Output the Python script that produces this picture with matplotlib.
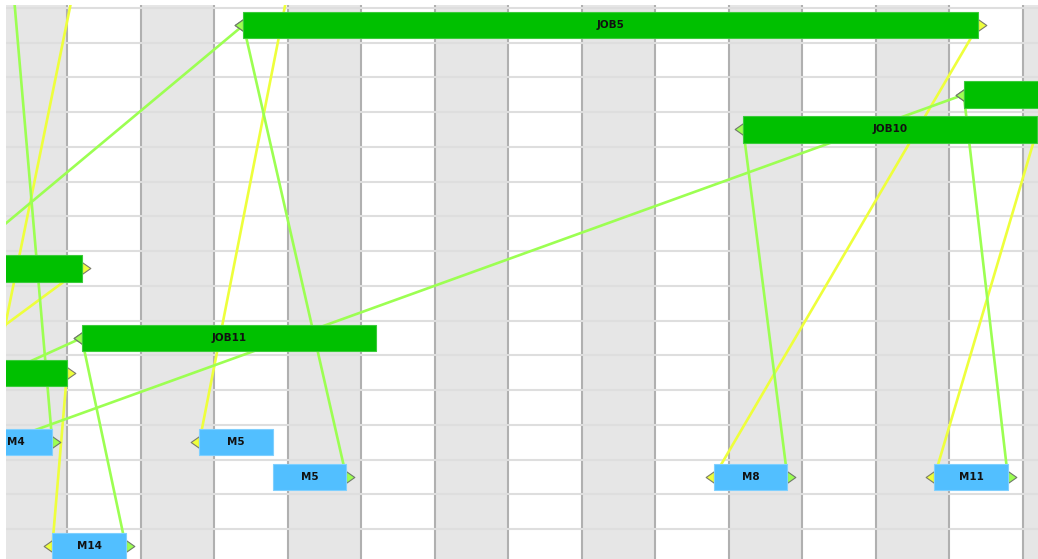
import numpy as np
import matplotlib
matplotlib.use('Agg')
import matplotlib.pyplot as plt
from matplotlib.path import Path

# Job bars (green). Rows count downward from the top; time in grid columns.
job_names = ['JOB5', '', 'JOB10', '', 'JOB11', '', '', '']
job_rows = [0, 2, 3, 7, 9, 10, -2, -3]
job_starts = [2.4, 12.2, 9.2, -3.8, 0.2, -4.0, -0.77, -3.72]
job_ends = [12.4, 16.2, 13.2, 0.2, 4.2, 0.0, 3.1, 0.28]

# Machine bars (blue)
mach_names = ['M4', 'M5', 'M5', 'M8', 'M11', 'M14', '', '', '', '', '']
mach_rows = [12, 12, 13, 13, 13, 15, 13, 16, 12, 12, 13]
mach_starts = [-1.2, 1.8, 2.8, 8.8, 11.8, -0.2, -3.2, -1.55, -3.0, -5.4, -4.96]
mach_ends = [-0.2, 2.8, 3.8, 9.8, 12.8, 0.8, -2.2, -0.55, -2.0, -4.4, -3.96]

# links: job end -> machine start (yellow), machine end -> job start (green)
job_to_mach = [(0, 3), (2, 4), (5, 5), (6, 1), (7, 7), (3, 8)]
mach_to_job = [(2, 0), (3, 2), (4, 1), (5, 4), (0, 6), (6, 1), (9, 0), (10, 4)]

n_cols = 13
n_rows = 16

YELLOW = '#EEFF3C'
LGREEN = '#9CFF52'
JOB_COLOR = '#00C000'
MACH_COLOR = '#52BFFF'

# half-triangle markers sticking out of the bar ends
left_tri = Path([(0, 0.7), (-1, 0), (0, -0.7), (0, 0.7)],
                [Path.MOVETO, Path.LINETO, Path.LINETO, Path.CLOSEPOLY])
right_tri = Path([(0, 0.7), (1, 0), (0, -0.7), (0, 0.7)],
                 [Path.MOVETO, Path.LINETO, Path.LINETO, Path.CLOSEPOLY])

if __name__ == '__main__':
    fig = plt.figure(figsize=(10.38, 5.59), dpi=100)
    ax = fig.add_axes([6 / 1038, 0, 1032 / 1038, 554 / 559])
    xmin, xmax = -0.83, 13.21
    ax.set_xlim(xmin, xmax)
    ax.set_ylim(15.36, -0.58)
    ax.axis('off')

    # alternating column shading and grid
    for k in range(-1, n_cols + 1, 2):
        ax.axvspan(k, k + 1, color='#E6E6E6', lw=0, zorder=0)
    for k in range(0, n_cols + 1):
        ax.axvline(k, color='#B0B0B0', lw=1.5, zorder=1)
    for r in range(-1, n_rows):
        ax.axhline(r + 0.5, color='#DEDEDE', lw=1.5, zorder=1)

    # links
    for j, m in job_to_mach:
        ax.plot([job_ends[j], mach_starts[m]], [job_rows[j], mach_rows[m]],
                color=YELLOW, lw=1.9, zorder=2, solid_capstyle='butt')
        ax.plot(job_ends[j], job_rows[j], marker=right_tri, ms=12,
                mfc=YELLOW, mec='#7a7a6a', mew=0.8, zorder=3)
        ax.plot(mach_starts[m], mach_rows[m], marker=left_tri, ms=12,
                mfc=YELLOW, mec='#7a7a6a', mew=0.8, zorder=3)
    for m, j in mach_to_job:
        ax.plot([mach_ends[m], job_starts[j]], [mach_rows[m], job_rows[j]],
                color=LGREEN, lw=1.9, zorder=2, solid_capstyle='butt')
        ax.plot(mach_ends[m], mach_rows[m], marker=right_tri, ms=12,
                mfc=LGREEN, mec='#6f7a6a', mew=0.8, zorder=3)
        ax.plot(job_starts[j], job_rows[j], marker=left_tri, ms=12,
                mfc=LGREEN, mec='#6f7a6a', mew=0.8, zorder=3)

    # bars
    job_w = np.array(job_ends) - np.array(job_starts)
    ax.barh(job_rows, job_w, left=job_starts, height=0.76, color=JOB_COLOR,
            edgecolor='#3ACB3A', linewidth=0.8, zorder=4)
    mach_w = np.array(mach_ends) - np.array(mach_starts)
    ax.barh(mach_rows, mach_w, left=mach_starts, height=0.76, color=MACH_COLOR,
            edgecolor='#7FD0FF', linewidth=0.8, zorder=4)

    for name, r, s, e in zip(job_names + mach_names, job_rows + mach_rows,
                             job_starts + mach_starts, job_ends + mach_ends):
        if name:
            ax.text((s + e) / 2, r, name, ha='center', va='center',
                    fontsize=7.5, fontweight='bold', color='#111111',
                    zorder=5, clip_on=True)

    fig.savefig('out.png', dpi=100)
